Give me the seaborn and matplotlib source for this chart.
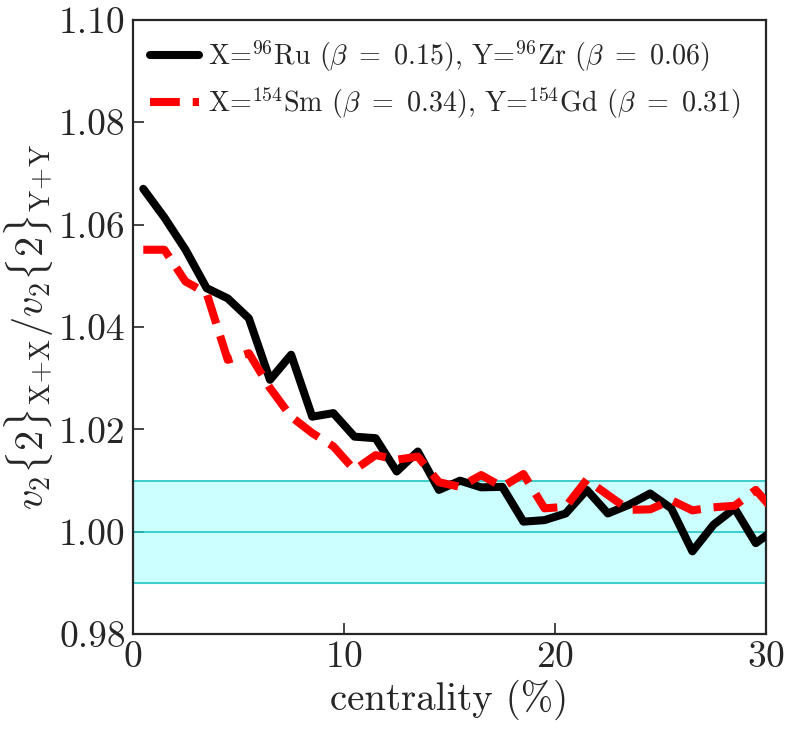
import numpy as np
import pandas as pd
import seaborn as sns
import matplotlib
matplotlib.use("Agg")
import matplotlib.pyplot as plt

# centrality bin centres (%)
centrality = [0.5, 1.5, 2.5, 3.5, 4.5, 5.5, 6.5, 7.5, 8.5, 9.5,
              10.5, 11.5, 12.5, 13.5, 14.5, 15.5, 16.5, 17.5, 18.5, 19.5,
              20.5, 21.5, 22.5, 23.5, 24.5, 25.5, 26.5, 27.5, 28.5, 29.5, 30.5]

ratio_ru_zr = [1.0670, 1.0614, 1.0551, 1.0476, 1.0456, 1.0417, 1.0297, 1.0346, 1.0225, 1.0232,
               1.0186, 1.0183, 1.0118, 1.0157, 1.0082, 1.0100, 1.0087, 1.0088, 1.0020, 1.0023,
               1.0036, 1.0082, 1.0036, 1.0053, 1.0075, 1.0046, 0.9962, 1.0014, 1.0046, 0.9978, 1.0008]

ratio_sm_gd = [1.0551, 1.0551, 1.0489, 1.0466, 1.0336, 1.0349, 1.0281, 1.0225, 1.0193, 1.0167,
               1.0121, 1.0150, 1.0141, 1.0147, 1.0097, 1.0088, 1.0111, 1.0088, 1.0113, 1.0046,
               1.0049, 1.0102, 1.0072, 1.0043, 1.0044, 1.0062, 1.0042, 1.0048, 1.0051, 1.0082, 1.0035]

labels = [r"X=$^{96}$Ru ($\beta\ =\ 0.15$), Y=$^{96}$Zr ($\beta\ =\ 0.06$)",
          r"X=$^{154}$Sm ($\beta\ =\ 0.34$), Y=$^{154}$Gd ($\beta\ =\ 0.31$)"]

df = pd.DataFrame({
    "centrality": centrality * 2,
    "ratio": ratio_ru_zr + ratio_sm_gd,
    "system": [labels[0]] * len(centrality) + [labels[1]] * len(centrality),
})

sns.set_style("ticks")
plt.rcParams["font.family"] = ["cmr10"]
plt.rcParams["mathtext.fontset"] = "cm"
plt.rcParams["axes.unicode_minus"] = False
plt.rcParams["axes.formatter.use_mathtext"] = True

fig = plt.figure(figsize=(7.9, 7.35), dpi=100)
ax = fig.add_axes([0.168, 0.137, 0.802, 0.836])

ax.axhspan(0.99, 1.01, color="#ccffff", zorder=0)
for yv in (0.99, 1.00, 1.01):
    ax.axhline(yv, color="#22c4c4", lw=1.2, zorder=1)

sns.lineplot(data=df, x="centrality", y="ratio", hue="system", style="system",
             palette=["black", "red"], dashes=["", (3.7, 1.6)], lw=5.8,
             ax=ax, legend=True, zorder=3)

ax.set_xlim(0, 30)
ax.set_ylim(0.98, 1.10)
ax.set_xticks([0, 10, 20, 30])
ax.set_yticks([0.98, 1.00, 1.02, 1.04, 1.06, 1.08, 1.10])
ax.yaxis.set_major_formatter(matplotlib.ticker.FormatStrFormatter("%.2f"))
ax.tick_params(direction="in", length=8, width=1.2, labelsize=27, pad=5)
for s in ax.spines.values():
    s.set_linewidth(1.6)

ax.set_xlabel(r"centrality (%)", fontsize=28, labelpad=4)
ax.set_ylabel(r"$v_2\{2\}_{\rm X\!+\!X}/v_2\{2\}_{\rm Y\!+\!Y}$", fontsize=29, labelpad=2)

leg = ax.legend(loc="upper left", frameon=False, fontsize=20.2, handlelength=1.75,
                handletextpad=0.3, borderaxespad=0.0, borderpad=0.4, labelspacing=0.4,
                bbox_to_anchor=(0.01, 0.988))
for line in leg.get_lines():
    line.set_linewidth(5.8)

fig.savefig("out.png", dpi=100)
